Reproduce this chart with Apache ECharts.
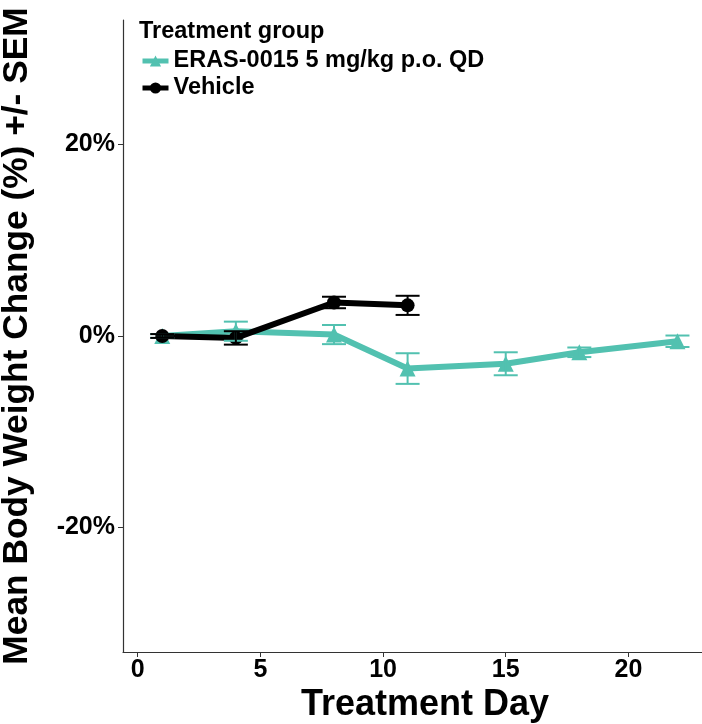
<!DOCTYPE html>
<html><head><meta charset="utf-8">
<script src="https://cdn.jsdelivr.net/npm/echarts@6/dist/echarts.min.js"></script>
<style>html,body{margin:0;padding:0;background:#fff}#c{width:702px;height:724px}</style>
</head><body><div id="c"></div>
<script>
const erasDays = [1, 4, 8, 11, 15, 18, 22];
const erasMean = [0, 0.5, 0.15, -3.4, -2.9, -1.7, -0.55];
const erasSem  = [0.2, 1.0, 1.0, 1.6, 1.2, 0.5, 0.6];
const vehDays  = [1, 4, 8, 11];
const vehMean  = [0, -0.2, 3.5, 3.2];
const vehSem   = [0.2, 0.7, 0.6, 1.0];
const xTicks = [0, 5, 10, 15, 20];
const yTicks = [-20, 0, 20];
const erasName = 'ERAS-0015 5 mg/kg p.o. QD';
const vehName = 'Vehicle';

const TEAL = '#52C1B0';
const FONT = 'Liberation Sans';

function errData(d, m, s) { return d.map((x, i) => [x, m[i] - s[i], m[i] + s[i]]); }
function errSeries(name, d, m, s, color) {
  return {
    type: 'custom', name: name, z: 4,
    data: errData(d, m, s),
    encode: { x: 0, y: [1, 2] },
    renderItem: function (params, api) {
      const x = api.value(0);
      const lo = api.coord([x, api.value(1)]);
      const hi = api.coord([x, api.value(2)]);
      const hw = 12;
      const st = { stroke: color, lineWidth: 2 };
      return { type: 'group', children: [
        { type: 'line', shape: { x1: lo[0], y1: lo[1], x2: hi[0], y2: hi[1] }, style: st },
        { type: 'line', shape: { x1: lo[0] - hw, y1: lo[1], x2: lo[0] + hw, y2: lo[1] }, style: st },
        { type: 'line', shape: { x1: hi[0] - hw, y1: hi[1], x2: hi[0] + hw, y2: hi[1] }, style: st }
      ]};
    }
  };
}

const chart = echarts.init(document.getElementById('c'));
chart.setOption({
  animation: false,
  textStyle: { fontFamily: FONT },
  title: [
    { text: 'Treatment group', left: 134, top: 15, textStyle: { fontFamily: FONT, fontWeight: 'bold', fontSize: 23.5, color: '#000' } },
    { text: 'Treatment Day', left: 420, top: 682, textAlign: 'center', textStyle: { fontFamily: FONT, fontWeight: 'bold', fontSize: 36, color: '#000' } }
  ],
  legend: {
    orient: 'vertical', left: 135, top: 44, itemGap: 3, itemWidth: 26, itemHeight: 14,
    data: [erasName, vehName],
    lineStyle: { width: 5 },
    textStyle: { fontFamily: FONT, fontWeight: 'bold', fontSize: 23.5, color: '#000' }
  },
  grid: { left: 123, right: 0, top: 20, bottom: 72, containLabel: false, outerBoundsMode: 'none' },
  xAxis: {
    type: 'value', min: -0.6, max: 23,
    axisLine: { show: true, onZero: false, lineStyle: { color: '#333', width: 1.2 } },
    axisTick: { show: true, length: 5, customValues: xTicks, lineStyle: { color: '#333' } },
    axisLabel: { customValues: xTicks, fontFamily: FONT, fontWeight: 'bold', fontSize: 25, color: '#000', margin: 6 },
    splitLine: { show: false }
  },
  yAxis: {
    type: 'value', min: -33, max: 33,
    name: 'Mean Body Weight Change (%) +/- SEM', nameLocation: 'middle', nameGap: 88,
    nameTextStyle: { fontFamily: FONT, fontWeight: 'bold', fontSize: 35.3, color: '#000' },
    axisLine: { show: true, onZero: false, lineStyle: { color: '#333', width: 1.2 } },
    axisTick: { show: true, length: 5, customValues: yTicks, lineStyle: { color: '#333' } },
    axisLabel: { customValues: yTicks, formatter: v => v + '%', fontFamily: FONT, fontWeight: 'bold', fontSize: 25, color: '#000', margin: 8 },
    splitLine: { show: false }
  },
  series: [
    {
      name: erasName, type: 'line', z: 2,
      data: erasDays.map((d, i) => [d, erasMean[i]]),
      symbol: 'triangle', symbolSize: 16, showSymbol: true,
      lineStyle: { color: TEAL, width: 6 }, itemStyle: { color: TEAL }
    },
    {
      name: vehName, type: 'line', z: 3,
      data: vehDays.map((d, i) => [d, vehMean[i]]),
      symbol: 'circle', symbolSize: 14, showSymbol: true,
      lineStyle: { color: '#000', width: 6 }, itemStyle: { color: '#000' }
    },
    errSeries(erasName, erasDays, erasMean, erasSem, TEAL),
    errSeries(vehName, vehDays, vehMean, vehSem, '#000')
  ]
});
</script></body></html>
